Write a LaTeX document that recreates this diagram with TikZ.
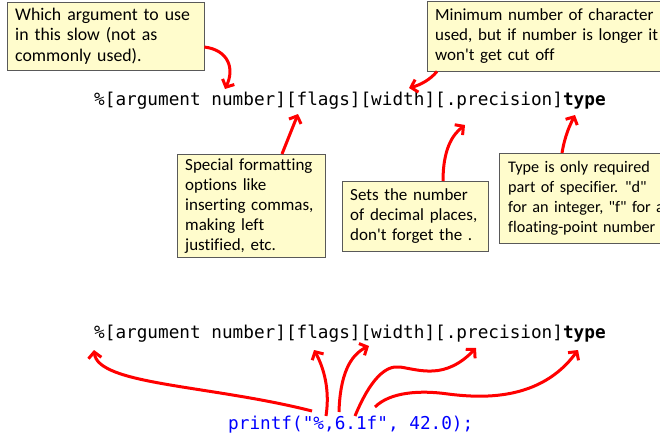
\documentclass[tikz,border=0pt]{standalone}
\usepackage{fontspec}
\setmainfont[Ligatures={TeXOff,CommonOff}]{Carlito}
\newfontfamily\codefont{DejaVu Sans Mono}
\usetikzlibrary{arrows.meta,calc,shadows}

\tikzset{
  note/.style={draw=black!65, fill=yellow!20, anchor=north west, align=left,
    inner xsep=8pt, inner ysep=3pt, font=\fontsize{17}{20}\selectfont,
    drop shadow={shadow xshift=1.2pt, shadow yshift=-1.2pt, opacity=.35}},
  code/.style={anchor=base west, inner sep=0pt, font=\codefont\fontsize{17.7}{20}\selectfont},
  callout/.style={draw=red, line width=3pt, -{Straight Barb[length=6pt,width=13pt]}},
}

\begin{document}
\begin{tikzpicture}[x=1pt,y=-1pt]
  \useasboundingbox (0,0) rectangle (660,433);
  \clip (0,0) rectangle (660,433);

  % Format string with its notes
  \node[code] (fmtTop) at (94,106) {\%[argument number][flags][width][.precision]\textbf{type}};

  \node[note, text width=181pt, minimum height=68pt, font=\fontsize{17.8}{20.5}\selectfont] (argNote) at (7,2)
    {Which argument to use\\in this slow (not as\\commonly used).};
  \node[note, text width=217pt, minimum height=70pt] (widthNote) at (427,1)
    {\mbox{Minimum number of character}\\\mbox{used, but if number is longer it}\\\mbox{won't get cut off}};
  \node[note, text width=132pt, minimum height=103pt] (flagsNote) at (177,154)
    {Special formatting\\options like\\inserting commas,\\making left\\justified, etc.};
  \node[note, text width=130pt, minimum height=70pt] (precNote) at (342,181)
    {Sets the number\\of decimal places,\\don't forget the .};
  \node[note, text width=200pt, minimum height=90pt, inner xsep=9pt, font=\fontsize{16.2}{20}\selectfont] (typeNote) at (499,153)
    {Type is only required\\part of specifier.\hspace{7pt}"d"\\for an integer, "f" for a\\floating-point number};

  \coordinate (tipArg) at (225,89);
  \coordinate (tipWidth) at (409,88);
  \coordinate (tipFlags) at (298,114);
  \coordinate (tipPrec) at (465,125);
  \coordinate (tipType) at (575,115);

  \draw[callout] ($(argNote.north east)+(0,45)$) .. controls (228,50) and (235,68) .. (tipArg);
  \draw[callout] ($(widthNote.south west)+(10,0)$) .. controls (430,80) and (420,85) .. (tipWidth);
  \draw[callout] ($(flagsNote.north west)+(105,0)$) -- (tipFlags);
  \draw[callout] ($(precNote.north west)+(101,0)$) .. controls (443,150) and (452,135) .. (tipPrec);
  \draw[callout] ($(typeNote.north west)+(63,0)$) .. controls (565,135) and (570,125) .. (tipType);

  % Example call mapped onto the format string
  \node[code] (fmtBot) at (94,338) {\%[argument number][flags][width][.precision]\textbf{type}};
  \node[code, text=blue] (call) at (228,429) {printf("\%,6.1f", 42.0);};

  \coordinate (fromPct) at (312,411);
  \coordinate (fromFlags) at (326,416);
  \coordinate (fromWidth) at (339,412);
  \coordinate (fromPrec) at (355,416);
  \coordinate (fromType) at (375,407);

  \coordinate (toPct) at (94,350);
  \coordinate (toFlags) at (314,350);
  \coordinate (toWidth) at (369,346);
  \coordinate (toPrec) at (476,348);
  \coordinate (toType) at (578,350);

  \draw[callout] (fromPct) .. controls (210,385) and (98,385) .. (toPct);
  \draw[callout] (fromFlags) .. controls (330,390) and (324,368) .. (toFlags);
  \draw[callout] (fromWidth) .. controls (340,375) and (350,355) .. (toWidth);
  \draw[callout] (fromPrec) .. controls (370,380) and (385,365) .. (400,367)
    .. controls (420,370) and (445,380) .. (toPrec);
  \draw[callout] (fromType) .. controls (390,392) and (420,390) .. (448,394)
    .. controls (480,398) and (540,402) .. (toType);
\end{tikzpicture}
\end{document}
